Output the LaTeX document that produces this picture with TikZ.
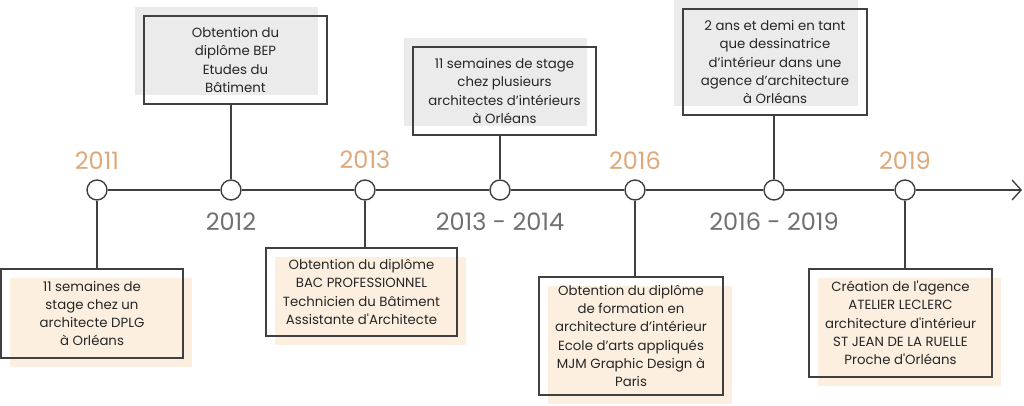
\documentclass[tikz,border=0pt]{standalone}
\usepackage{fontspec}
\setmainfont{Poppins}
\usetikzlibrary{positioning,arrows.meta}
\definecolor{yearorange}{HTML}{E0A878}
\definecolor{yeargray}{HTML}{707070}
\definecolor{linegray}{HTML}{404040}
\definecolor{textgray}{HTML}{262626}
\definecolor{shadegray}{HTML}{EBEBEB}
\definecolor{shadebeige}{HTML}{FCEFDF}
\newcommand{\sq}{\textquotesingle}
\tikzset{
  dot/.style={circle,draw=linegray,fill=white,line width=1.4pt,minimum size=20pt,inner sep=0pt},
  infobox/.style={draw=linegray,line width=1.4pt,align=center,minimum width=183pt,minimum height=88pt,
    inner sep=2pt,text=textgray,font=\fontsize{13.3}{18.3}\selectfont},
  upbox/.style={infobox,preaction={fill=shadegray,transform canvas={xshift=-9pt,yshift=9pt}}},
  downbox/.style={infobox,preaction={fill=shadebeige,transform canvas={xshift=9pt,yshift=-9pt}}},
  yearup/.style={text=yearorange,inner sep=0pt,font=\fontsize{24}{24}\selectfont},
  yeardown/.style={text=yeargray,inner sep=0pt,font=\fontsize{24}{24}\selectfont},
  link/.style={draw=linegray,line width=1.4pt}
}
\begin{document}
\begin{tikzpicture}[x=1pt,y=-1pt]
\useasboundingbox (0,0) rectangle (1024,405);

% Timeline points
\foreach \i/\x in {1/97,2/231,3/365,4/500,5/635,6/774,7/905}
  \node[dot] (c\i) at (\x,190) {};
\coordinate (tip) at (1022,190);

% Main axis
\foreach \a/\b in {c1/c2,c2/c3,c3/c4,c4/c5,c5/c6,c6/c7}
  \draw[link] (\a) -- (\b);
\draw[link,-{Straight Barb[length=9pt,width=20pt]}] (c7) -- (tip);

% Years
\node[yearup,above=10pt of c1] (y1) {2011};
\node[yeardown,below=12pt of c2] (y2) {2012};
\node[yearup,above=10pt of c3] (y3) {2013};
\node[yeardown,below=12pt of c4] (y4) {2013 - 2014};
\node[yearup,above=10pt of c5] (y5) {2016};
\node[yeardown,below=12pt of c6] (y6) {2016 - 2019};
\node[yearup,above=10pt of c7] (y7) {2019};

% Boxes
\node[downbox,minimum width=182pt,minimum height=89pt] (b1) at (92,313.5)
  {11 semaines de\\stage chez un\\architecte DPLG\\à Orléans};
\node[upbox] (b2) at (235.5,60)
  {Obtention du\\diplôme BEP\\Etudes du\\Bâtiment};
\node[downbox,minimum width=191pt] (b3) at (361.5,292)
  {Obtention du diplôme\\BAC PROFESSIONNEL\\Technicien du Bâtiment\\Assistante d\sq Architecte};
\node[upbox] (b4) at (504.5,91)
  {11 semaines de stage\\chez plusieurs\\architectes d’intérieurs\\à Orléans};
\node[downbox,minimum width=184pt,minimum height=118pt] (b5) at (631,336)
  {Obtention du diplôme\\de formation en\\architecture d’intérieur\\Ecole d’arts appliqués\\MJM Graphic Design à\\Paris};
\node[upbox,minimum width=184pt,minimum height=106pt] (b6) at (775,62)
  {2 ans et demi en tant\\que dessinatrice\\d’intérieur dans une\\agence d’architecture\\à Orléans};
\node[downbox,minimum height=108pt] (b7) at (900.5,323)
  {Création de l\sq agence\\ATELIER LECLERC\\architecture d\sq intérieur\\ST JEAN DE LA RUELLE\\Proche d\sq Orléans};

% Stems
\foreach \i in {1,3,5,7}
  \draw[link] (c\i) -- (c\i |- b\i.north);
\foreach \i in {2,4,6}
  \draw[link] (c\i) -- (c\i |- b\i.south);
\end{tikzpicture}
\end{document}
